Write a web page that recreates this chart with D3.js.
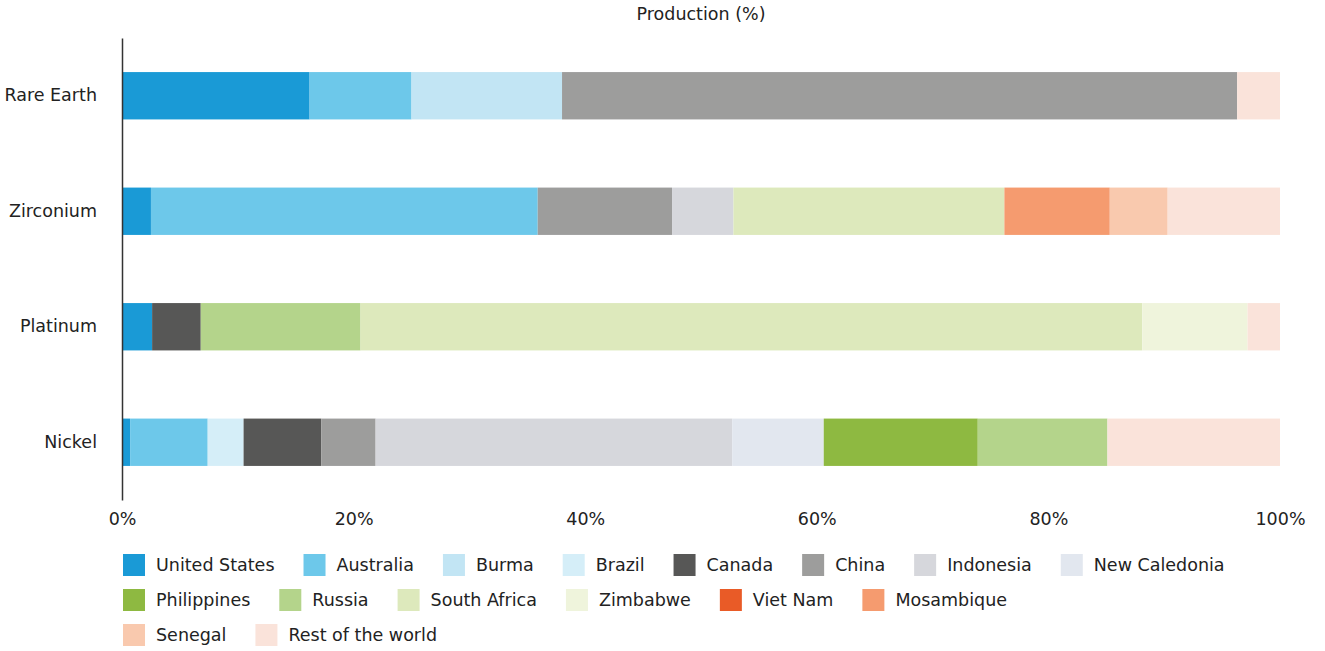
<!DOCTYPE html>
<html>
<head>
<meta charset="utf-8">
<script src="https://cdn.jsdelivr.net/npm/d3@7"></script>
<style>
  body { margin: 0; background: #fff; }
  svg { display: block; font-family: "DejaVu Sans", sans-serif; }
</style>
</head>
<body>
<div id="chart"></div>
<script>
var width = 1325, height = 651;

var minerals = ["Rare Earth", "Zirconium", "Platinum", "Nickel"];
var countries = ["United States", "Australia", "Burma", "Brazil", "Canada", "China", "Indonesia",
                 "New Caledonia", "Philippines", "Russia", "South Africa", "Zimbabwe", "Viet Nam",
                 "Mosambique", "Senegal", "Rest of the world"];

// share per mineral, in the order of minerals
var unitedStates = [16.2, 2.5, 2.6, 0.7];
var australia    = [8.8, 33.4, 0, 6.7];
var burma        = [13.0, 0, 0, 0];
var brazil       = [0, 0, 0, 3.1];
var canada       = [0, 0, 4.2, 6.7];
var china        = [58.3, 11.6, 0, 4.7];
var indonesia    = [0, 5.3, 0, 30.8];
var newCaledonia = [0, 0, 0, 7.9];
var philippines  = [0, 0, 0, 13.3];
var russia       = [0, 0, 13.8, 11.2];
var southAfrica  = [0, 23.4, 67.5, 0];
var zimbabwe     = [0, 0, 9.1, 0];
var vietNam      = [0, 0, 0, 0];
var mosambique   = [0, 9.1, 0, 0];
var senegal      = [0, 5.0, 0, 0];
var restOfWorld  = [3.7, 9.7, 2.8, 14.9];

var xTicks = [0, 20, 40, 60, 80, 100];

var colors = ["#1a9ad6", "#6dc8ea", "#c2e5f4", "#d5eef8", "#575756", "#9d9d9c", "#d6d7dc",
              "#e2e7ef", "#8eb941", "#b4d48b", "#dde9bc", "#eff4dc", "#e95b27",
              "#f59b6f", "#f9c9ae", "#fae3da"];

var series = [unitedStates, australia, burma, brazil, canada, china, indonesia, newCaledonia,
              philippines, russia, southAfrica, zimbabwe, vietNam, mosambique, senegal, restOfWorld];

var rows = minerals.map(function(m, i) {
  var r = { mineral: m };
  countries.forEach(function(c, j) { r[c] = series[j][i]; });
  return r;
});

var svg = d3.select("#chart").append("svg")
  .attr("width", width).attr("height", height);

var x = d3.scaleLinear().domain([0, 100]).range([122, 1280]);
var y = d3.scaleBand().domain(minerals).range([38, 500])
  .paddingInner(0.59).paddingOuter(0.295);
var color = d3.scaleOrdinal().domain(countries).range(colors);

svg.append("text")
  .text("Production (%)")
  .attr("x", 701).attr("y", 20)
  .attr("text-anchor", "middle")
  .attr("font-size", "17.5px")
  .attr("fill", "#222");

var stack = d3.stack().keys(countries)(rows);

svg.append("g").selectAll("g")
  .data(stack)
  .enter().append("g")
  .attr("fill", function(d) { return color(d.key); })
  .selectAll("rect")
  .data(function(d) { return d; })
  .enter().append("rect")
  .attr("x", function(d) { return x(d[0]); })
  .attr("width", function(d) { return x(d[1]) - x(d[0]); })
  .attr("y", function(d) { return y(d.data.mineral); })
  .attr("height", y.bandwidth());

var yAxis = svg.append("g")
  .attr("transform", "translate(122,0)")
  .call(d3.axisLeft(y).tickSize(0).tickPadding(25));
yAxis.select(".domain").attr("stroke", "#333").attr("stroke-width", 1.5);
yAxis.selectAll("text").attr("font-size", "17.5px").attr("fill", "#222")
  .style("font-family", "DejaVu Sans, sans-serif");

var xAxis = svg.append("g")
  .attr("transform", "translate(0,500)")
  .call(d3.axisBottom(x).tickValues(xTicks).tickSize(0).tickPadding(13)
    .tickFormat(function(d) { return d + "%"; }));
xAxis.select(".domain").remove();
xAxis.selectAll("text").attr("font-size", "17.5px").attr("fill", "#222")
  .style("font-family", "DejaVu Sans, sans-serif");

// legend: 8 items, then 6, then the rest
var rowBreaks = [8, 14];
var legend = svg.append("g");
var lx = 123, ly = 554;
countries.forEach(function(c, i) {
  if (rowBreaks.indexOf(i) !== -1) { lx = 123; ly += 35; }
  var item = legend.append("g");
  item.append("rect").attr("width", 22).attr("height", 22).attr("fill", color(c));
  var t = item.append("text").text(c)
    .attr("x", 33).attr("y", 11).attr("dy", "0.35em")
    .attr("font-size", "17.5px").attr("fill", "#222");
  var w = 33 + t.node().getComputedTextLength();
  item.attr("transform", "translate(" + lx + "," + ly + ")");
  lx += w + 29;
});
</script>
</body>
</html>
